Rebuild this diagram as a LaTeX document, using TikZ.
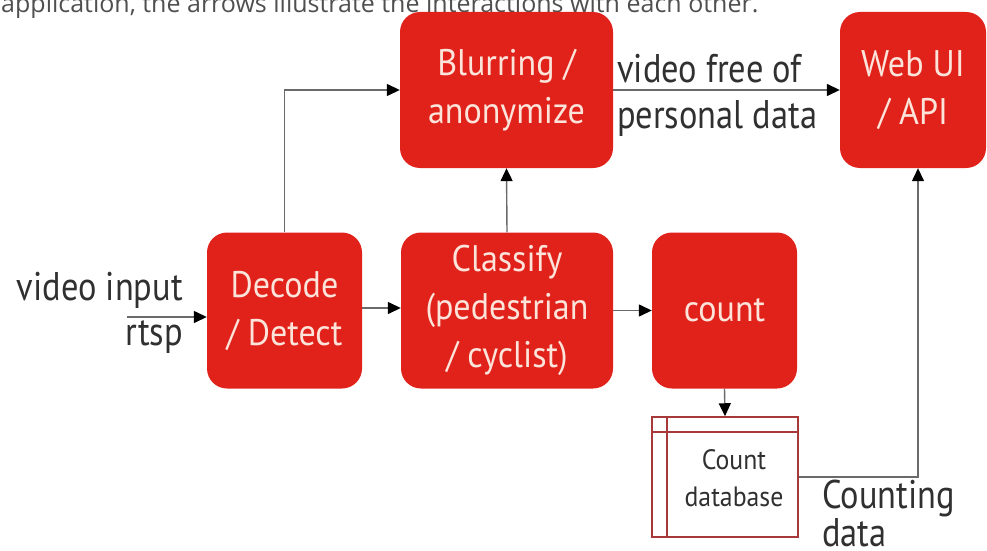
\documentclass[tikz,border=0pt]{standalone}
\usepackage{fontspec}
\setmainfont{Open Sans}
\newfontfamily\boxfont[FakeStretch=0.92]{PT Sans}
\newfontfamily\labelfont[FakeStretch=0.86]{PT Sans}
\usetikzlibrary{arrows.meta}
\definecolor{boxred}{HTML}{E1221B}
\definecolor{boxtext}{HTML}{FCE4DA}
\definecolor{dbred}{HTML}{A8393B}
\definecolor{wire}{HTML}{6A6A6A}
\definecolor{ink}{HTML}{303030}
\tikzset{
  block/.style={fill=boxred, draw=none, rounded corners=20pt, text=boxtext,
    align=center, font=\boxfont\fontsize{37}{48}\selectfont,
    minimum height=156pt, inner sep=0pt},
  wirearrow/.style={draw=wire, line width=1.4pt,
    -{Triangle[length=13pt,width=12pt,fill=black,color=black]}},
  outlabel/.style={text=ink, font=\labelfont\fontsize{40}{34}\selectfont, inner sep=0pt},
}
\begin{document}
\begin{tikzpicture}[x=1pt,y=-1pt]
\useasboundingbox (0,0) rectangle (987,551);
\clip (0,0) rectangle (987,551);

% caption line running above the diagram
\node[anchor=base west, inner sep=0pt, text=ink!85,
      font=\fontsize{25}{30}\selectfont] (caption) at (1,13)
  {application, the arrows illustrate the interactions with each other.};

% processing stages
\node[block, minimum width=213pt] (blur) at (506.5,90) {Blurring /\\anonymize};
\node[block, minimum width=146pt] (web) at (913,90) {Web UI\\/ API};
\node[block, minimum width=155pt] (decode) at (284.5,310.5) {Decode\\/ Detect};
\node[block, minimum width=212pt] (classify) at (507,310.5) {Classify\\(pedestrian\\/ cyclist)};
\node[block, minimum width=145pt] (count) at (724.5,310.5) {count};

% count database (table symbol)
\node[draw=dbred, line width=1.5pt, minimum width=146pt, minimum height=120pt,
      inner sep=0pt] (db) at (725,477) {};
\draw[dbred, line width=1.5pt] (667,417) -- (667,537);
\draw[dbred, line width=1.5pt] (652,432) -- (798,432);
\node[align=center, text=ink, font=\boxfont\fontsize{28}{37}\selectfont]
  (dbtext) at (734,478) {Count\\database};

% external labels
\coordinate (vin) at (127,317);
\node[outlabel, anchor=base east] (lblin) at (183,300) {video input};
\node[outlabel, anchor=base east] (lblrtsp) at (183,345) {rtsp};
\node[outlabel, anchor=base west] (lblfree) at (617,82) {video free of};
\node[outlabel, anchor=base west] (lblpers) at (617,128) {personal data};
\node[outlabel, anchor=base west, align=left] (lblcnt) at (822,546) {Counting\\data};

% connectors
\draw[wirearrow] (vin) -- (vin -| decode.west);
\draw[wirearrow] (decode.north) |- (blur.west);
\draw[wirearrow] (decode.east |- 0,308) -- (classify.west |- 0,308);
\draw[wirearrow] (classify.north) -- (blur.south);
\draw[wirearrow] (classify.east) -- (count.west);
\draw[wirearrow] (count.south) -- (db.north);
\draw[wirearrow] (blur.east) -- (web.west);
\draw[wirearrow] (db.east) -| ([xshift=5pt]web.south);
\end{tikzpicture}
\end{document}
